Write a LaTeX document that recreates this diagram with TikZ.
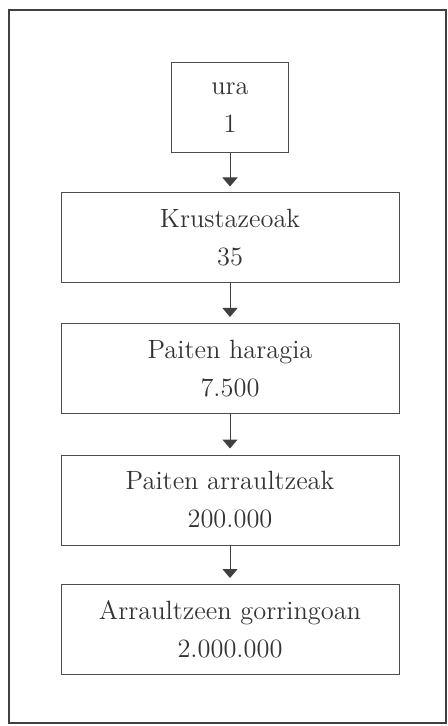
\documentclass[tikz,border=0pt]{standalone}
\usepackage{tikz}
\usetikzlibrary{arrows.meta, positioning}

\begin{document}
\begin{tikzpicture}[x=0.5pt, y=-0.5pt,
    level/.style={rectangle, draw=black!70, line width=0.5pt, text=black!80, align=center, font=\fontsize{13.2}{16}\selectfont, minimum width=169pt, minimum height=45pt, inner sep=0pt},
    arrow/.style={-{Triangle[width=7.5pt, length=4.5pt]}, line width=0.5pt, draw=black!75, shorten >=3pt}
]
\useasboundingbox (0,0) rectangle (448,726);
\draw[line width=1pt, black!75] (9,10) rectangle (446,723);
\node[level, minimum width=58.5pt] (water) at (230,107.5) {ura\\[3pt]1};
\node[level] (crust) at (230,238) {Krustazeoak\\[3pt]35};
\node[level] (meat) at (230,368.5) {Paiten haragia\\[3pt]7.500};
\node[level] (eggs) at (230,500) {Paiten arraultzeak\\[3pt]200.000};
\node[level] (yolk) at (230,629.5) {Arraultzeen gorringoan\\[3pt]2.000.000};
\draw[arrow] (water) -- (crust);
\draw[arrow] (crust) -- (meat);
\draw[arrow] (meat) -- (eggs);
\draw[arrow] (eggs) -- (yolk);
\end{tikzpicture}
\end{document}
